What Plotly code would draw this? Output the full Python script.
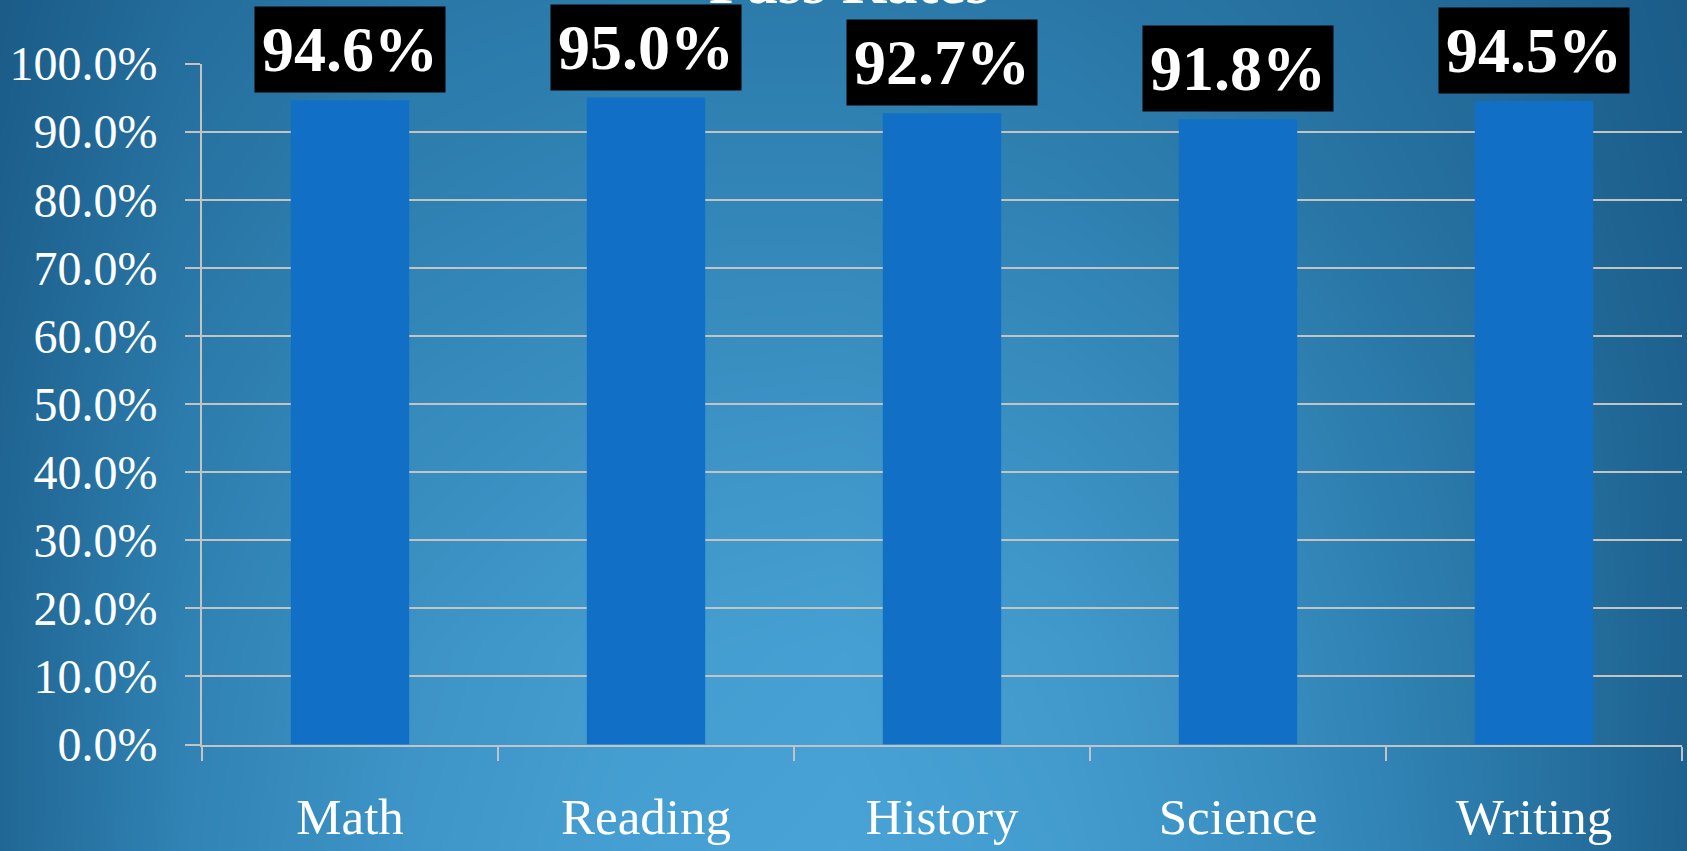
import plotly.graph_objects as go

# ---- data ----
categories = ["Math", "Reading", "History", "Science", "Writing"]
pass_rates = [0.946, 0.950, 0.927, 0.918, 0.945]
title_text = "Pass Rates"
y_tick_values = [0.0, 0.1, 0.2, 0.3, 0.4, 0.5, 0.6, 0.7, 0.8, 0.9, 1.0]

# ---- background gradient grid (styling only) ----
bg_x = [0, 0.125, 0.25, 0.375, 0.5, 0.625, 0.75, 0.875, 1.0]
bg_y = [0, 0.25, 0.5, 0.75, 1.0]
bg_z = [
    [0.00, 0.25, 0.38, 0.42, 0.42, 0.38, 0.30, 0.18, 0.02],
    [0.05, 0.35, 0.50, 0.58, 0.58, 0.52, 0.40, 0.24, 0.05],
    [0.10, 0.45, 0.65, 0.75, 0.78, 0.70, 0.55, 0.33, 0.08],
    [0.12, 0.52, 0.76, 0.90, 0.95, 0.85, 0.65, 0.38, 0.08],
    [0.12, 0.55, 0.80, 0.95, 1.00, 0.90, 0.70, 0.40, 0.05],
]
bg_scale = [[0.0, "#195884"], [0.5, "#2e80b1"], [1.0, "#49a3d6"]]

W, H = 1687, 851
FONT = "Liberation Serif"

fig = go.Figure()

fig.add_trace(go.Heatmap(
    x=bg_x, y=bg_y, z=bg_z, colorscale=bg_scale, zsmooth="best",
    showscale=False, hoverinfo="skip", xaxis="x", yaxis="y",
))

fig.add_trace(go.Bar(
    x=categories, y=pass_rates, marker=dict(color="#1170c6", line=dict(width=0)),
    width=0.4, xaxis="x2", yaxis="y2", hoverinfo="x+y",
))

annotations = []
for c, v in zip(categories, pass_rates):
    annotations.append(dict(
        x=c, y=v, xref="x2", yref="y2", text=f"{v*100:.1f}%", showarrow=False,
        yanchor="bottom", xanchor="center", yshift=7,
        bgcolor="black", borderpad=7,
        font=dict(family=FONT, size=64, color="white", weight="bold"),
    ))
annotations.append(dict(
    x=849 / W, y=(H - 18) / H, xref="paper", yref="paper", text=title_text,
    showarrow=False, xanchor="center", yanchor="bottom",
    font=dict(family=FONT, size=62, color="white", weight="bold"),
))

grid_col = "#c3c3c3"
fig.update_layout(
    template="none",
    width=W, height=H, autosize=False,
    margin=dict(l=0, r=0, t=0, b=0, pad=0, autoexpand=False),
    paper_bgcolor="#195884", plot_bgcolor="rgba(0,0,0,0)",
    showlegend=False,
    annotations=annotations,
    xaxis=dict(domain=[0, 1], range=[0.02, 0.98], visible=False, fixedrange=True,
               automargin=False),
    yaxis=dict(domain=[0, 1], range=[0.98, 0.02], visible=False, fixedrange=True,
               anchor="x", automargin=False),
    xaxis2=dict(
        domain=[202 / W, 1682 / W], anchor="y2", automargin=False,
        showgrid=False, showline=True, linecolor=grid_col, linewidth=2,
        ticks="outside", tickson="boundaries", ticklen=14, tickcolor=grid_col, tickwidth=2,
        tickfont=dict(family=FONT, size=51, color="white"),
        ticklabelstandoff=26,
    ),
    yaxis2=dict(
        domain=[(H - 744.5) / H, (H - 63.5) / H], anchor="x2", automargin=False,
        range=[0, 1], tickvals=y_tick_values, tickformat=".1%",
        showgrid=True, gridcolor=grid_col, gridwidth=2,
        showline=True, linecolor=grid_col, linewidth=2,
        ticks="outside", ticklen=15, tickcolor=grid_col, tickwidth=2,
        tickfont=dict(family=FONT, size=48, color="white"),
        ticklabelstandoff=18, zeroline=False,
    ),
    bargap=0.6,
)

fig.write_html(
    "out.html",
    config={"displayModeBar": False},
    post_script="document.body.style.margin='0';document.body.style.overflow='hidden';",
)
